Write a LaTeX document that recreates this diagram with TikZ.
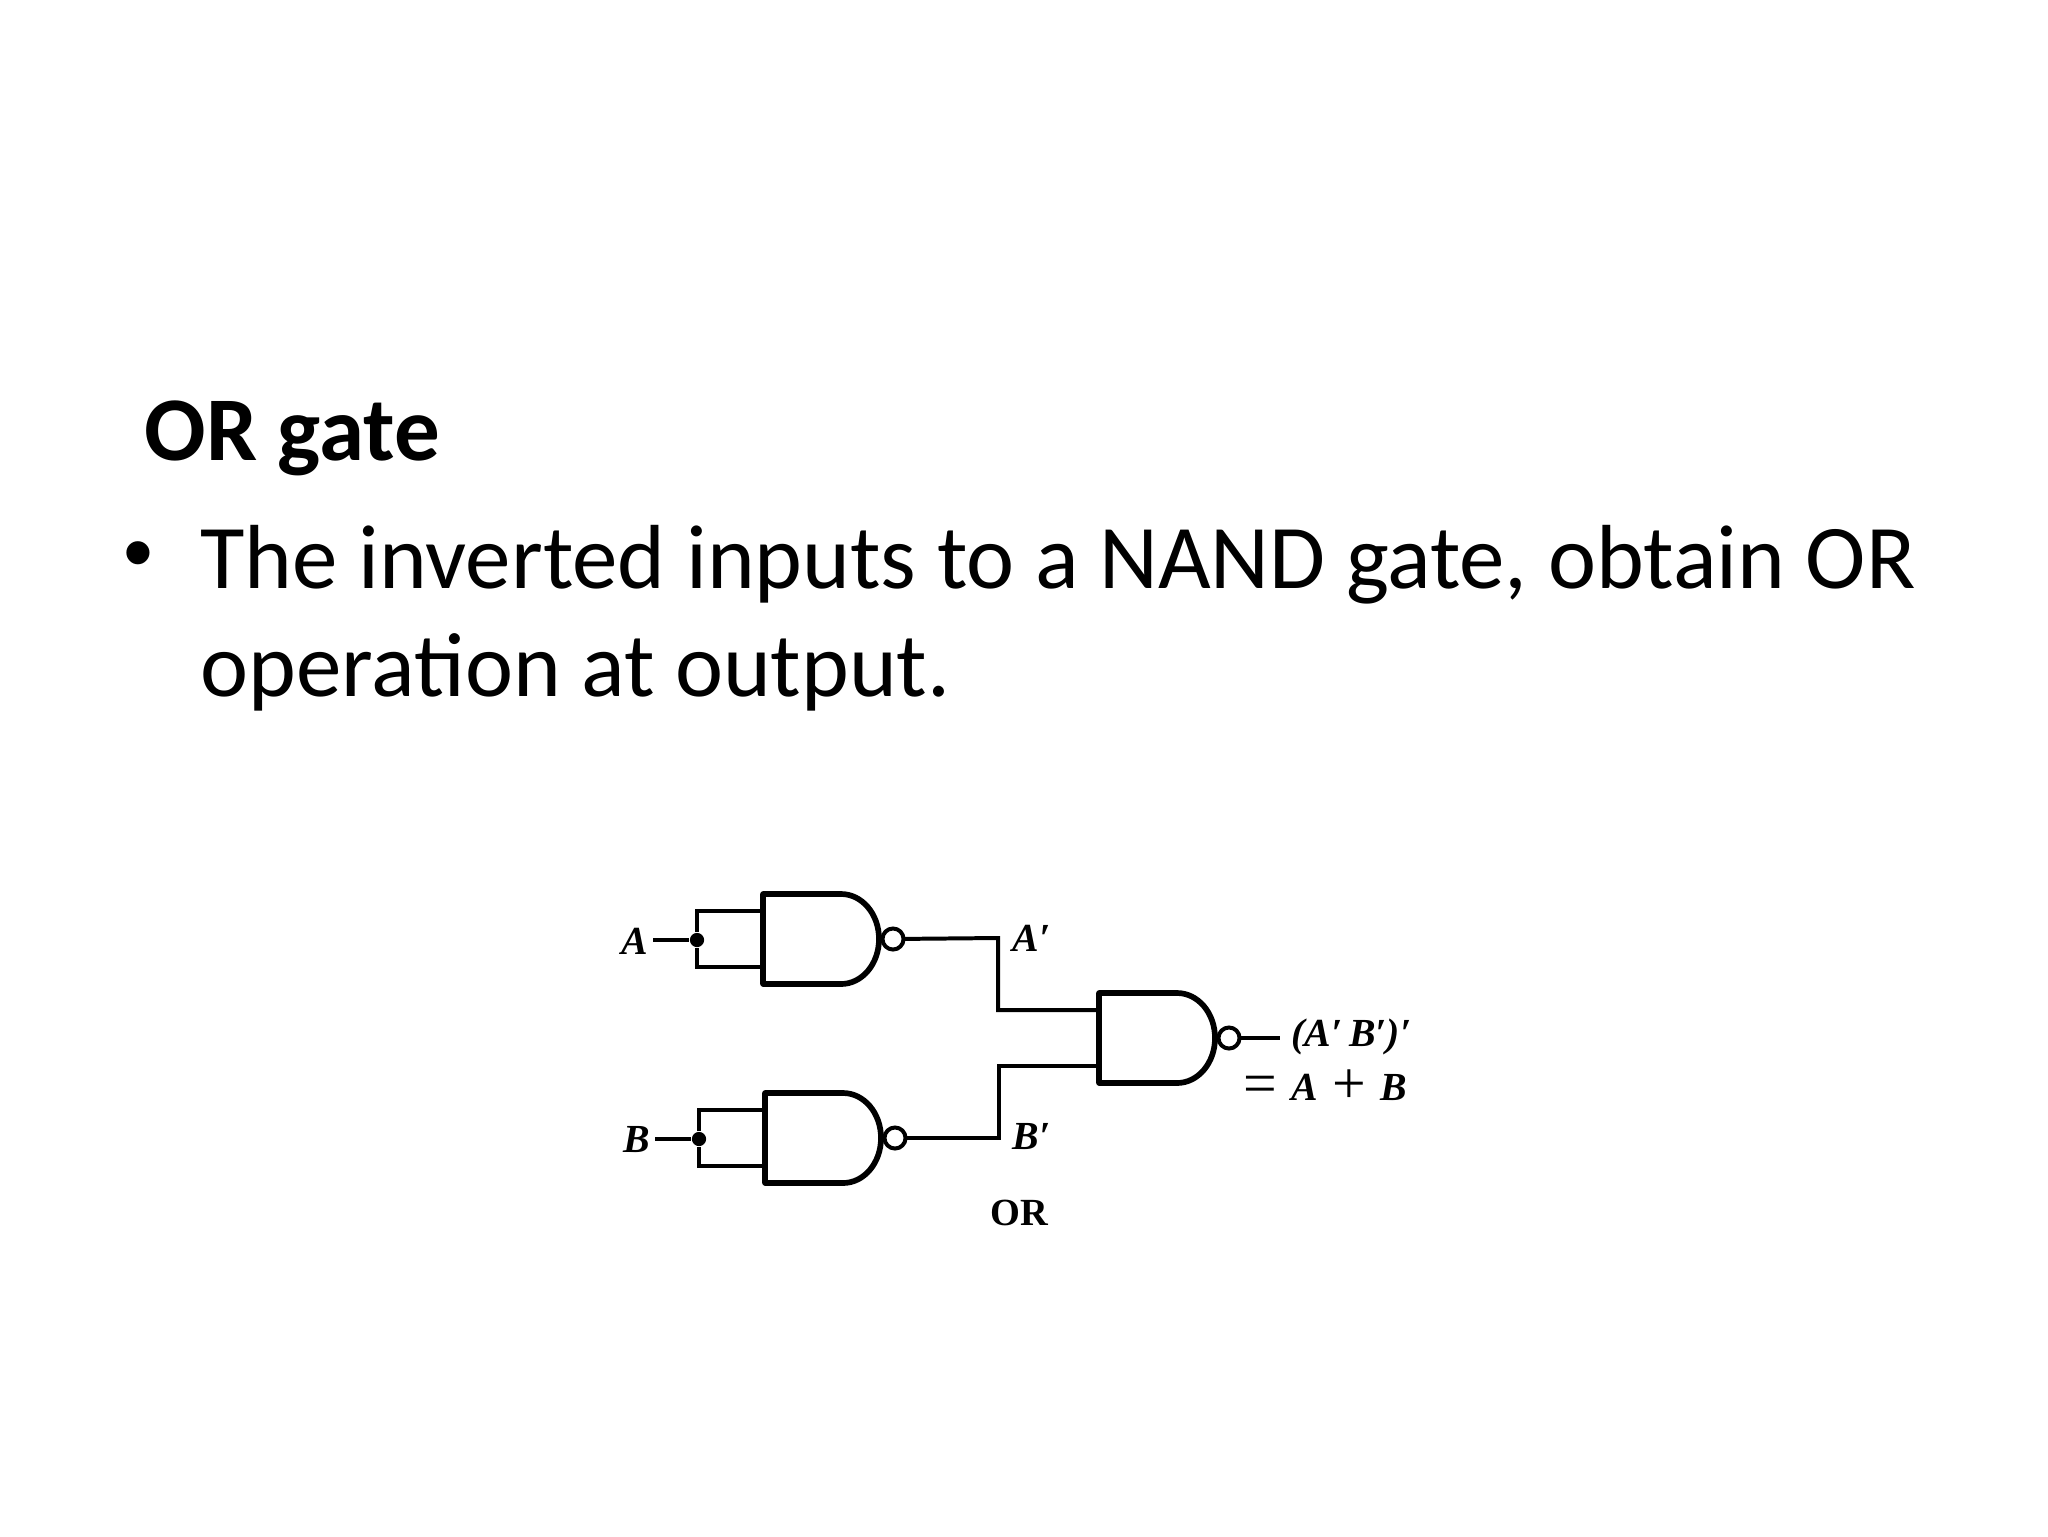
\documentclass[tikz,border=0pt]{standalone}
\usepackage{fontspec}
\setmainfont{Carlito}
\newfontfamily\lblfont{Liberation Serif}[BoldItalicFont={Liberation Serif Bold Italic}]
\newfontfamily\bulletfont{Liberation Sans}
\newcommand{\bigop}[1]{\raisebox{-1.2pt}{\fontsize{21}{21}\selectfont\upshape\mdseries #1}}
\tikzset{
	slidetext/.style={anchor=base west,inner sep=0pt,font=\fontsize{32}{38.4}\selectfont},
	wire/.style={line width=1.4pt},
	joint/.style={circle,fill,inner sep=0pt,minimum size=5pt},
	bubble/.style={circle,draw,fill=white,inner sep=0pt,minimum size=7.4pt,line width=1.4pt,outer sep=0pt},
	lbl/.style={anchor=base west,inner sep=0pt,font=\lblfont\fontsize{14}{17}\selectfont\bfseries\itshape},
	nandgate/.pic={
		\draw[line width=2pt,line join=round] (78,-45) -- (0,-45) -- (0,45) -- (78,45)
			.. controls (99,45) and (116,25) .. (116,0)
			.. controls (116,-25) and (99,-45) .. (78,-45) -- cycle;
		\node[bubble] (-bub) at (130,0) {};
		\coordinate (-in1) at (0,-28);
		\coordinate (-in2) at (0,28);
	}
}
\begin{document}
\begin{tikzpicture}[x=.3516pt,y=-.3516pt]
\useasboundingbox (0,0) rectangle (2048,1536);
\node[slidetext,font=\fontsize{32}{38.4}\selectfont\bfseries] (title) at (144,460) {OR gate};
\node[slidetext,font=\bulletfont\fontsize{30}{36}\selectfont] (bullet) at (123,581) {•};
\node[slidetext] (lineone) at (200,588) {The inverted inputs to a NAND gate, obtain OR};
\node[slidetext] (linetwo) at (200,696) {operation at output.};
% gates
\pic (gA) at (763,939) {nandgate};
\pic (gB) at (765,1138) {nandgate};
\pic (gC) at (1099,1038) {nandgate};
% inputs
\node[lbl] (A) at (621,954) {A};
\node[lbl] (B) at (623,1152) {B};
\node[joint] (jA) at (697,940) {};
\node[joint] (jB) at (699,1139) {};
\coordinate (endA) at (653,940);
\coordinate (endB) at (655,1139);
\coordinate (endC) at (1280,1038);
\coordinate (turnA) at (998,938);
\coordinate (turnB) at (999,1138);
\draw[wire] (endA) -- (jA);
\draw[wire] (endB) -- (jB);
\foreach \j/\g in {jA/gA,jB/gB} {
	\draw[wire] (\j) |- (\g-in1);
	\draw[wire] (\j) |- (\g-in2);
}
\draw[wire] (gA-bub) -- (turnA) |- (gC-in1);
\draw[wire] (gB-bub) -- (turnB) |- (gC-in2);
\draw[wire] (gC-bub) -- (endC);
% labels
\node[lbl] (Ap) at (1012,951) {A′};
\node[lbl] (Bp) at (1012,1149) {B′};
\node[lbl] (res) at (1291,1046) {(A′\,B′)′};
\node[lbl] (eq) at (1243,1100) {\bigop{=}\hspace{5pt}A\hspace{5pt}\bigop{+}\hspace{5pt}B};
\node[lbl,font=\lblfont\fontsize{13.5}{16}\selectfont\bfseries] (name) at (990,1225) {OR};
\end{tikzpicture}
\end{document}
